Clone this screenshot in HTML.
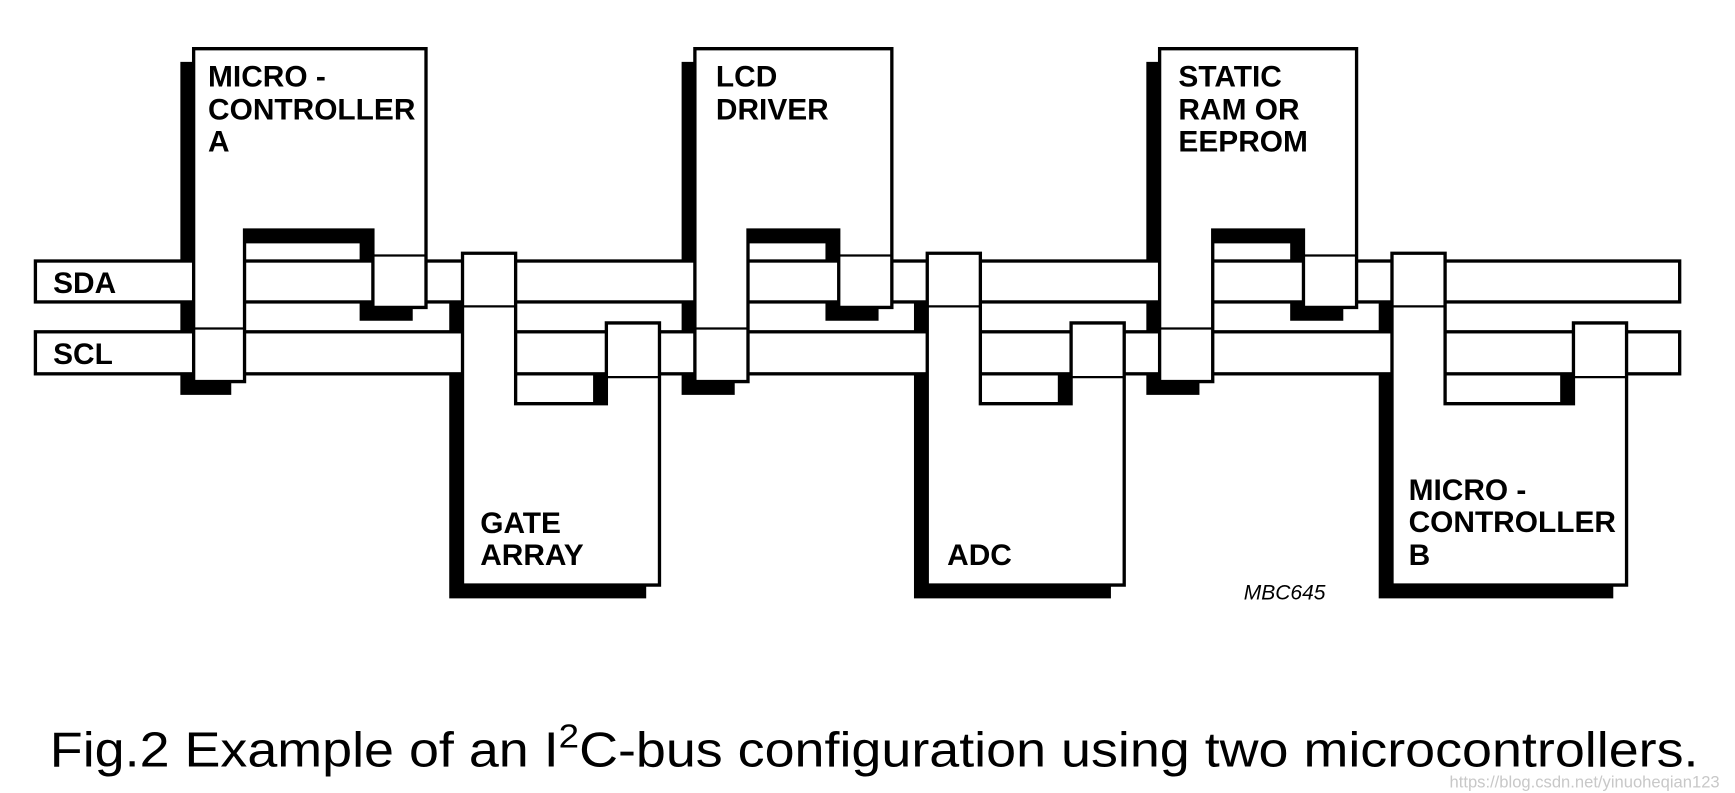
<!DOCTYPE html>
<html><head><meta charset="utf-8"><style>
html,body{margin:0;padding:0;background:#fff;}
svg{display:block;}
text{font-family:"Liberation Sans",Arial,sans-serif;}
.lb{font-weight:bold;font-size:27px;fill:#000;}
</style></head><body>
<svg width="1735" height="793" viewBox="0 0 1568 717" preserveAspectRatio="none" xmlns="http://www.w3.org/2000/svg">
<rect width="1568" height="717" fill="#fff"/>
<!-- shadows -->
<g fill="#000">
<polygon transform="translate(-12,12)" points="175,44 385,44 385,278 337,278 337,208 221,208 221,345 175,345"/>
<polygon transform="translate(-12,12)" points="628,44 806,44 806,278 758,278 758,208 676,208 676,345 628,345"/>
<polygon transform="translate(-12,12)" points="1048,44 1226,44 1226,278 1178,278 1178,208 1096,208 1096,345 1048,345"/>
<polygon transform="translate(-12,12)" points="418,229 466,229 466,365 548,365 548,292 596,292 596,529 418,529"/>
<polygon transform="translate(-12,12)" points="838,229 886,229 886,365 968,365 968,292 1016,292 1016,529 838,529"/>
<polygon transform="translate(-12,12)" points="1258,229 1306,229 1306,365 1422,365 1422,292 1470,292 1470,529 1258,529"/>
</g>
<!-- buses -->
<g fill="#fff" stroke="#000" stroke-width="3">
<rect x="32" y="236" width="1486" height="37"/>
<rect x="32" y="300" width="1486" height="38"/>
</g>
<!-- devices -->
<g fill="#fff" stroke="#000" stroke-width="3">
<polygon points="175,44 385,44 385,278 337,278 337,208 221,208 221,345 175,345"/>
<polygon points="628,44 806,44 806,278 758,278 758,208 676,208 676,345 628,345"/>
<polygon points="1048,44 1226,44 1226,278 1178,278 1178,208 1096,208 1096,345 1048,345"/>
<polygon points="418,229 466,229 466,365 548,365 548,292 596,292 596,529 418,529"/>
<polygon points="838,229 886,229 886,365 968,365 968,292 1016,292 1016,529 838,529"/>
<polygon points="1258,229 1306,229 1306,365 1422,365 1422,292 1470,292 1470,529 1258,529"/>
</g>
<g stroke="#000" stroke-width="2">
<line x1="337" y1="231" x2="385" y2="231"/><line x1="175" y1="297" x2="221" y2="297"/>
<line x1="758" y1="231" x2="806" y2="231"/><line x1="628" y1="297" x2="676" y2="297"/>
<line x1="1178" y1="231" x2="1226" y2="231"/><line x1="1048" y1="297" x2="1096" y2="297"/>
<line x1="418" y1="277" x2="466" y2="277"/><line x1="548" y1="341" x2="596" y2="341"/>
<line x1="838" y1="277" x2="886" y2="277"/><line x1="968" y1="341" x2="1016" y2="341"/>
<line x1="1258" y1="277" x2="1306" y2="277"/><line x1="1422" y1="341" x2="1470" y2="341"/>
</g>
<!-- labels -->
<text class="lb" x="48" y="265">SDA</text>
<text class="lb" x="48" y="329">SCL</text>
<text class="lb" x="188" y="78">MICRO -</text><text class="lb" x="188" y="108">CONTROLLER</text><text class="lb" x="188" y="137">A</text>
<text class="lb" x="647" y="78">LCD</text><text class="lb" x="647" y="108">DRIVER</text>
<text class="lb" x="1065" y="78">STATIC</text><text class="lb" x="1065" y="108">RAM OR</text><text class="lb" x="1065" y="137">EEPROM</text>
<text class="lb" x="434" y="482">GATE</text><text class="lb" x="434" y="511">ARRAY</text>
<text class="lb" x="856" y="511">ADC</text>
<text class="lb" x="1273" y="452">MICRO -</text><text class="lb" x="1273" y="481">CONTROLLER</text><text class="lb" x="1273" y="511">B</text>
<text x="1124" y="542" font-style="italic" font-size="19">MBC645</text>
<text x="45" y="693" font-size="44" textLength="1490" lengthAdjust="spacingAndGlyphs">Fig.2  Example of an I<tspan font-size="30" dy="-17">2</tspan><tspan dy="17">C-bus configuration using two microcontrollers.</tspan></text>
<text x="1310" y="712" font-size="15" fill="#c8c8c8">https://blog.csdn.net/yinuoheqian123</text>
</svg>
</body></html>
